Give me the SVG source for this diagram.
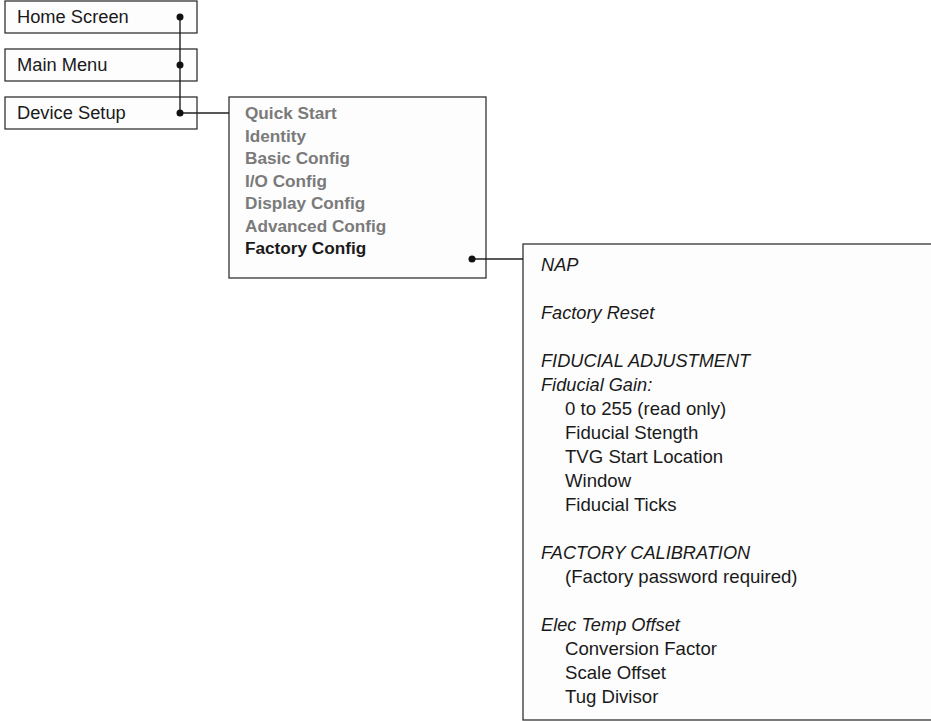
<svg xmlns="http://www.w3.org/2000/svg" width="931" height="721" viewBox="0 0 931 721">
<style>
.box{fill:#fdfdfd;stroke:#333;stroke-width:1.3}
.t{font-family:"Liberation Sans",Arial,sans-serif;font-size:18.3px;fill:#1a1a1a}
.b{font-family:"Liberation Sans",Arial,sans-serif;font-size:17.2px;font-weight:bold;fill:#7a7a7a}
.bk{fill:#1a1a1a}
.i{font-family:"Liberation Sans",Arial,sans-serif;font-size:18.2px;font-style:italic;fill:#1a1a1a}
.r{font-family:"Liberation Sans",Arial,sans-serif;font-size:18.6px;fill:#1a1a1a}
.ln{stroke:#222;stroke-width:1.4;fill:none}
.dot{fill:#111}
</style>
<rect width="931" height="721" fill="#ffffff"/>
<g id="home-screen">
<rect class="box" x="5" y="1" width="192" height="32"/>
<text class="t" x="17" y="23">Home Screen</text>
</g>
<g id="main-menu">
<rect class="box" x="5" y="49" width="192" height="32"/>
<text class="t" x="17" y="71">Main Menu</text>
</g>
<g id="device-setup">
<rect class="box" x="5" y="97" width="192" height="32"/>
<text class="t" x="17" y="119">Device Setup</text>
</g>
<g id="device-setup-menu">
<rect class="box" x="229" y="97" width="257" height="181"/>
<text class="b" x="245" y="119">Quick Start</text>
<text class="b" x="245" y="141.5">Identity</text>
<text class="b" x="245" y="164">Basic Config</text>
<text class="b" x="245" y="186.5">I/O Config</text>
<text class="b" x="245" y="209">Display Config</text>
<text class="b" x="245" y="231.5">Advanced Config</text>
<text class="b bk" x="245" y="254">Factory Config</text>
</g>
<g id="factory-config-menu">
<rect class="box" x="523" y="244" width="410" height="476"/>
<text class="i" x="541" y="271">NAP</text>
<text class="i" x="541" y="319">Factory Reset</text>
<text class="i" x="541" y="367">FIDUCIAL ADJUSTMENT</text>
<text class="i" x="541" y="391">Fiducial Gain:</text>
<text class="r" x="565" y="415">0 to 255 (read only)</text>
<text class="r" x="565" y="439">Fiducial Stength</text>
<text class="r" x="565" y="463">TVG Start Location</text>
<text class="r" x="565" y="487">Window</text>
<text class="r" x="565" y="511">Fiducial Ticks</text>
<text class="i" x="541" y="559">FACTORY CALIBRATION</text>
<text class="r" x="565" y="583">(Factory password required)</text>
<text class="i" x="541" y="631">Elec Temp Offset</text>
<text class="r" x="565" y="655">Conversion Factor</text>
<text class="r" x="565" y="679">Scale Offset</text>
<text class="r" x="565" y="703">Tug Divisor</text>
</g>
<g id="connectors">
<path class="ln" d="M180 17V113H229"/>
<path class="ln" d="M472 259H523"/>
<circle class="dot" cx="180" cy="17" r="3.5"/>
<circle class="dot" cx="180" cy="65" r="3.5"/>
<circle class="dot" cx="180" cy="113" r="3.5"/>
<circle class="dot" cx="472" cy="259" r="3.5"/>
</g>
</svg>
